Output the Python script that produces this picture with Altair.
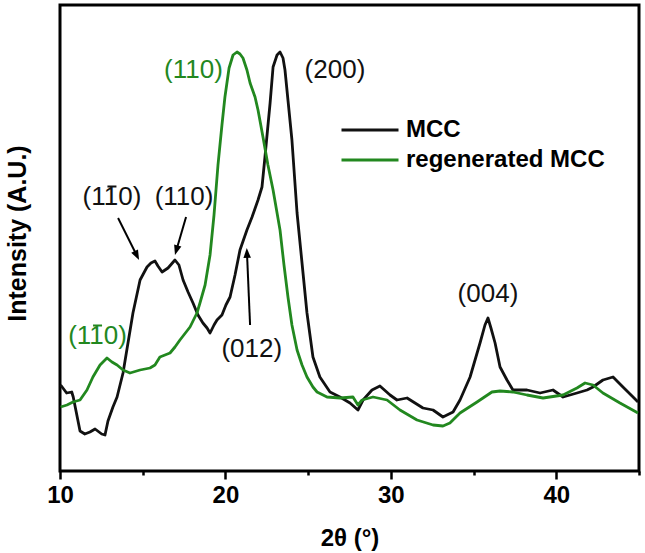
import math
import altair as alt
import pandas as pd

# ---- diffractogram data: 2θ (degrees) and intensity (arbitrary units) ----
mcc_2theta = [10.04, 10.40, 10.71, 10.80, 11.21, 11.50, 11.81, 12.12, 12.52, 12.72,
              12.90, 13.20, 13.45, 13.81, 14.41, 14.84, 15.26, 15.50, 15.74, 15.92,
              16.17, 16.53, 16.95, 17.19, 17.44, 17.74, 18.04, 18.34, 18.64, 18.89,
              19.07, 19.31, 19.49, 19.79, 20.03, 20.28, 20.58, 20.88, 21.30, 21.61,
              21.97, 22.21, 22.39, 22.70, 22.88, 23.12, 23.30, 23.48, 23.60, 23.78,
              24.02, 24.33, 24.63, 24.93, 25.29, 25.71, 26.32, 26.92, 27.53, 28.01,
              28.32, 28.86, 29.34, 29.95, 30.37, 30.98, 31.46, 31.94, 32.55, 33.15,
              33.76, 34.18, 34.79, 35.39, 35.69, 35.87, 36.05, 36.30, 36.60, 37.02,
              37.38, 38.23, 39.02, 39.80, 40.41, 41.25, 41.86, 42.22, 42.82, 43.43,
              44.03, 44.64, 44.94]
mcc_intensity = [86, 78, 79, 74, 40, 37, 39, 42, 37, 36,
                 50, 64, 74, 98, 158, 191, 204, 208, 210, 205,
                 199, 203, 211, 206, 191, 179, 168, 156, 148, 143,
                 138, 146, 151, 156, 166, 174, 196, 221, 241, 254,
                 271, 284, 314, 368, 404, 416, 419, 413, 401, 371,
                 331, 258, 208, 158, 114, 94, 79, 74, 68, 61,
                 71, 81, 85, 76, 71, 73, 68, 63, 61, 54,
                 59, 71, 94, 128, 146, 153, 143, 128, 104, 91,
                 81, 81, 78, 81, 74, 78, 81, 84, 91, 94,
                 84, 74, 69]

regen_2theta = [10.04, 10.42, 10.79, 11.21, 11.63, 11.99, 12.42, 12.84, 13.14, 13.45,
                13.81, 14.23, 14.84, 15.44, 15.74, 16.04, 16.65, 16.95, 17.25, 17.86,
                18.28, 18.46, 18.77, 19.07, 19.31, 19.55, 19.79, 19.97, 20.22, 20.46,
                20.70, 20.88, 21.06, 21.30, 21.49, 21.79, 21.97, 22.27, 22.57, 22.88,
                23.30, 23.54, 23.78, 24.02, 24.33, 24.63, 24.93, 25.29, 25.54, 26.14,
                26.93, 27.71, 28.01, 28.26, 28.92, 29.77, 30.55, 31.58, 32.55, 33.15,
                33.57, 34.18, 35.21, 36.11, 36.60, 37.38, 38.23, 39.20, 40.41, 41.25,
                41.74, 42.22, 42.82, 43.85, 44.94]
regen_intensity = [64, 66, 69, 71, 81, 94, 106, 113, 109, 106,
                   101, 98, 101, 103, 106, 114, 118, 124, 131, 144,
                   158, 168, 186, 216, 256, 306, 346, 374, 403, 416,
                   419, 417, 413, 401, 388, 374, 361, 334, 306, 281,
                   241, 206, 174, 146, 121, 106, 94, 84, 79, 74,
                   73, 74, 66, 71, 74, 71, 61, 51, 46, 45,
                   48, 58, 69, 79, 80, 79, 76, 73, 76, 83,
                   88, 86, 78, 68, 58]

series_names = ["MCC", "regenerated MCC"]
series_colors = ["#111111", "#22881f"]

# ---- Miller-index labels (an overbar is added on the middle digit of "(1-10)") ----
black_label_text = ["(110)", "(110)", "(200)", "(012)", "(004)"]
black_label_2theta = [13.14, 17.50, 26.62, 21.59, 35.87]
black_label_int = [274, 274, 401, 122, 177]
black_label_bar = [True, False, False, False, False]

green_label_text = ["(110)", "(110)"]
green_label_2theta = [18.07, 12.27]
green_label_int = [401, 135]
green_label_bar = [False, True]

# ---- arrows pointing at the reflections ----
arrow_tail_2theta = [13.51, 17.62, 21.49]
arrow_tail_int = [253, 254, 146]
arrow_tip_2theta = [14.78, 16.95, 21.29]
arrow_tip_int = [211, 216, 223]

# ---- geometry ----
W, H = 579, 466
X_DOMAIN = [10, 45]
Y_DOMAIN = [0, 466]
FONT = "Liberation Sans"
LABEL_SIZE = 26
sx = W / (X_DOMAIN[1] - X_DOMAIN[0])
sy = H / (Y_DOMAIN[1] - Y_DOMAIN[0])

curves = pd.concat([
    pd.DataFrame({"theta": mcc_2theta, "intensity": mcc_intensity, "sample": series_names[0]}),
    pd.DataFrame({"theta": regen_2theta, "intensity": regen_intensity, "sample": series_names[1]}),
], ignore_index=True)

# arrow shafts stop a little short of the tip; the head covers the rest
shaft_rows, head_rows = [], []
for tx, ty, hx, hy in zip(arrow_tail_2theta, arrow_tail_int, arrow_tip_2theta, arrow_tip_int):
    dx = (hx - tx) * sx
    dy = -(hy - ty) * sy
    length = math.hypot(dx, dy)
    ux, uy = dx / length, dy / length
    angle = math.degrees(math.atan2(dx, -dy)) % 360
    shaft_rows.append({"x": tx, "y": ty, "x2": hx - 7 * ux / sx, "y2": hy + 7 * uy / sy})
    head_rows.append({"x": hx, "y": hy, "angle": angle})
shafts = pd.DataFrame(shaft_rows)
heads = pd.DataFrame(head_rows)

x_scale = alt.Scale(domain=X_DOMAIN, nice=False, zero=False)
y_scale = alt.Scale(domain=Y_DOMAIN, nice=False, zero=False)

x_axis = alt.Axis(
    title="2θ (°)",
    values=[10, 15, 20, 25, 30, 35, 40, 45],
    labelExpr="datum.value % 10 === 0 ? datum.label : ''",
    labelOverlap=False,
    labelFlush=False,
    domain=False,
    grid=False,
    tickColor="black",
    tickWidth=2.5,
    tickSize={"condition": {"test": "datum.value % 10 === 0", "value": 8}, "value": 4},
    labelFont=FONT, labelFontSize=24, labelFontWeight="bold", labelColor="black",
    labelPadding=4,
    titleFont=FONT, titleFontSize=24, titleFontWeight="bold", titleColor="black",
    titleX=W / 2, titleY=67, titleAlign="center", titleBaseline="middle",
)
y_axis = alt.Axis(
    title="Intensity (A.U.)",
    labels=False, ticks=False, domain=False, grid=False,
    titleFont=FONT, titleFontSize=25, titleFontWeight="bold", titleColor="black",
    titleAngle=270, titleX=-43, titleY=228, titleAlign="center", titleBaseline="middle",
)

lines = alt.Chart(curves).mark_line(strokeWidth=2.8, strokeJoin="round").encode(
    x=alt.X("theta:Q", scale=x_scale, axis=x_axis),
    y=alt.Y("intensity:Q", scale=y_scale, axis=y_axis),
    color=alt.Color(
        "sample:N",
        scale=alt.Scale(domain=series_names, range=series_colors),
        sort=series_names,
        legend=alt.Legend(
            title=None, orient="none", legendX=298, legendY=113,
            # a short symbol box keeps the rows tight; the path draws the long stroke
            symbolType="M-3,0H3", symbolSize=361, symbolStrokeWidth=3,
            labelFont=FONT, labelFontSize=24, labelFontWeight="bold", labelColor="black",
            labelLimit=0, labelOffset=24, rowPadding=6, padding=0,
        ),
    ),
    detail="sample:N",
)

shaft_layer = alt.Chart(shafts).mark_rule(color="black", strokeWidth=2).encode(
    x="x:Q", y="y:Q", x2="x2:Q", y2="y2:Q"
)
head_layer = alt.Chart(heads).mark_point(
    shape="M0,0L0.72,1.9L-0.72,1.9Z", size=110, filled=True, color="black", opacity=1
).encode(x="x:Q", y="y:Q", angle=alt.Angle("angle:Q", scale=None))

BAR_HALF = 4.5 / sx     # half width of the overbar, in degrees
BAR_RISE = 10.5 / sy    # overbar height above the label centre, in intensity units


def label_layers(texts, xs, ys, bars, color):
    df = pd.DataFrame({"x": xs, "y": ys, "t": texts, "bar": bars})
    text = alt.Chart(df).mark_text(
        font=FONT, fontSize=LABEL_SIZE, color=color, align="center", baseline="middle"
    ).encode(x="x:Q", y="y:Q", text="t:N")
    bar_df = df[df["bar"]].copy()
    bar_df["x1"] = bar_df["x"] - BAR_HALF
    bar_df["x2"] = bar_df["x"] + BAR_HALF
    bar_df["yb"] = bar_df["y"] + BAR_RISE
    overbar = alt.Chart(bar_df).mark_rule(color=color, strokeWidth=2).encode(
        x="x1:Q", x2="x2:Q", y="yb:Q"
    )
    return text, overbar


bt, bb = label_layers(black_label_text, black_label_2theta, black_label_int, black_label_bar, "#111111")
gt, gb = label_layers(green_label_text, green_label_2theta, green_label_int, green_label_bar, series_colors[1])

chart = alt.layer(
    lines, shaft_layer, head_layer, bt, bb, gt, gb
).properties(
    width=W, height=H,
    autosize=alt.AutoSizeParams(type="none"),
    padding={"left": 60, "top": 5, "right": 6, "bottom": 82},
    background="white",
).configure_view(
    stroke="black", strokeWidth=3
)

chart.save("out.html", embed_options={"renderer": "svg", "actions": False})
